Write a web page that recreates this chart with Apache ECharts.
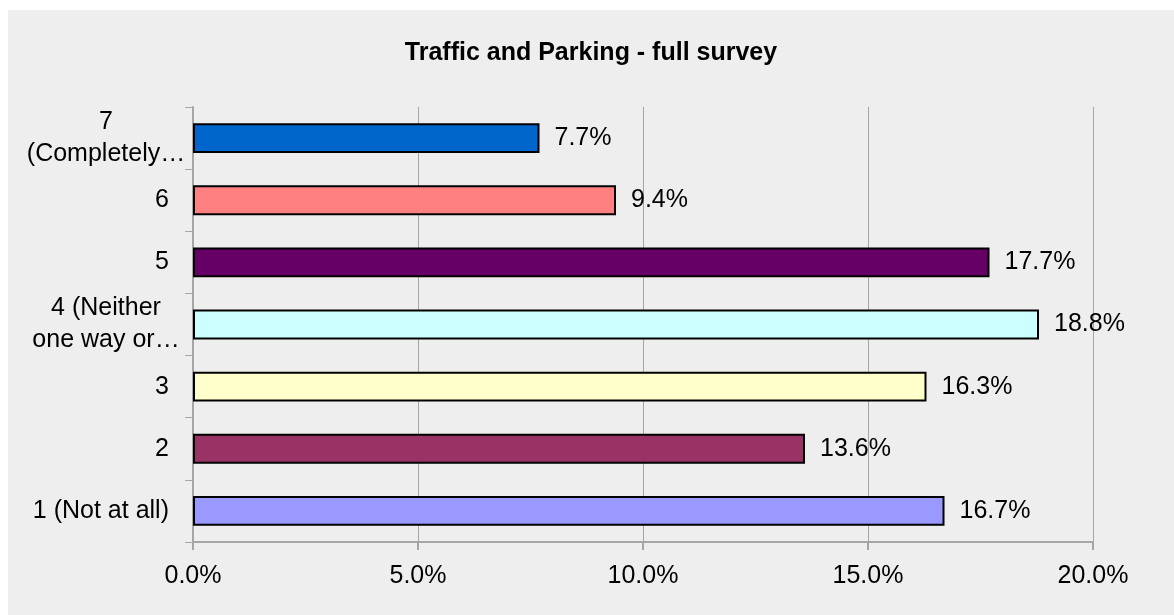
<!DOCTYPE html>
<html>
<head>
<meta charset="utf-8">
<script src="https://cdn.jsdelivr.net/npm/echarts@6/dist/echarts.min.js"></script>
<style>
  html, body { margin: 0; padding: 0; background: #ffffff; }
  #chart { position: absolute; left: 8px; top: 10px; width: 1166px; height: 605px; background: #eeeeee; }
</style>
</head>
<body>
<div id="chart"></div>
<script>
// categories bottom -> top (category axis starts at bottom)
var categories = ['1 (Not at all)', '2', '3', '4 (Neither\none way or…', '5', '6', '7\n(Completely…'];
var values = [16.7, 13.6, 16.3, 18.8, 17.7, 9.4, 7.7];
var barColors = ['#9999ff', '#993366', '#ffffcc', '#ccffff', '#660066', '#ff8080', '#0066cc'];
var xTicks = [0, 5, 10, 15, 20];

var font = 'Liberation Sans, Arial, sans-serif';

var myChart = echarts.init(document.getElementById('chart'));

var option = {
  animation: false,
  title: {
    text: 'Traffic and Parking - full survey',
    left: 'center',
    top: 26,
    textStyle: { fontFamily: font, fontSize: 25, fontWeight: 'bold', color: '#000' }
  },
  grid: { left: 185, top: 97, right: 81, bottom: 73, containLabel: false },
  xAxis: {
    type: 'value',
    min: xTicks[0],
    max: xTicks[xTicks.length - 1],
    interval: 5,
    axisLine: { show: true, lineStyle: { color: '#a6a6a6', width: 2 } },
    axisTick: { show: true, length: 8, lineStyle: { color: '#a6a6a6', width: 2 } },
    splitLine: { show: true, lineStyle: { color: '#a6a6a6', width: 1 } },
    axisLabel: {
      margin: 22,
      fontFamily: font, fontSize: 25, color: '#000',
      formatter: function (v) { return v.toFixed(1) + '%'; }
    }
  },
  yAxis: {
    type: 'category',
    data: categories,
    axisLine: { show: true, lineStyle: { color: '#a6a6a6', width: 2 } },
    axisTick: { show: true, length: 8, alignWithLabel: false, lineStyle: { color: '#a6a6a6', width: 1 } },
    axisLabel: {
      margin: 6,
      fontFamily: font, fontSize: 25, color: '#000',
      formatter: function (v) {
        if (v.indexOf('\n') >= 0) {
          return v.split('\n').map(function (s) { return '{c|' + s + '}'; }).join('\n');
        }
        return '{s|' + v + '}';
      },
      rich: {
        c: { width: 162, align: 'center', fontFamily: font, fontSize: 25, lineHeight: 32, color: '#000' },
        s: { padding: [0, 18, 0, 0], fontFamily: font, fontSize: 25, color: '#000' }
      }
    }
  },
  series: [{
    type: 'bar',
    data: values.map(function (v, i) {
      return { value: v, itemStyle: { color: barColors[i] } };
    }),
    barWidth: '48%',
    itemStyle: { borderColor: '#000', borderWidth: 2 },
    label: {
      show: true,
      position: 'right',
      distance: 15,
      fontFamily: font, fontSize: 25, color: '#000',
      formatter: function (p) { return p.value.toFixed(1) + '%'; }
    }
  }]
};

myChart.setOption(option);
</script>
</body>
</html>
